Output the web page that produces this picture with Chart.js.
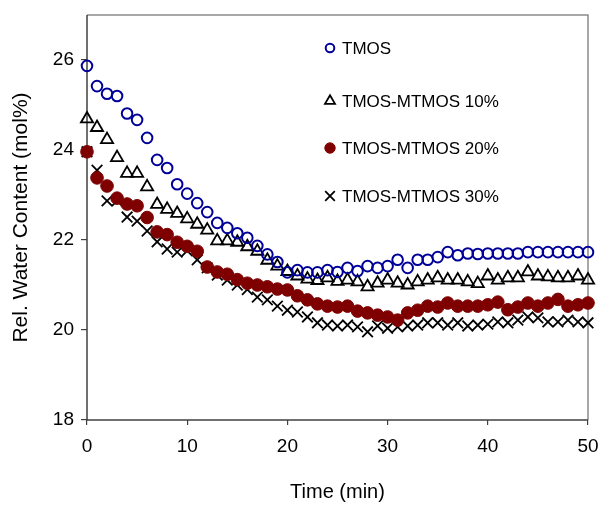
<!DOCTYPE html>
<html><head><meta charset="utf-8">
<script src="https://cdn.jsdelivr.net/npm/chart.js@4/dist/chart.umd.min.js"></script>
<style>html,body{margin:0;padding:0;background:#fff}#w{width:601px;height:505px;position:relative}</style>
</head><body><div id="w"><canvas id="c"></canvas></div>
<script>
const time = [0,1,2,3,4,5,6,7,8,9,10,11,12,13,14,15,16,17,18,19,20,21,22,23,24,25,26,27,28,29,30,31,32,33,34,35,36,37,38,39,40,41,42,43,44,45,46,47,48,49,50];
const tmos = [25.87,25.42,25.25,25.2,24.81,24.67,24.27,23.78,23.6,23.24,23.03,22.82,22.62,22.38,22.27,22.15,22.05,21.87,21.68,21.51,21.28,21.33,21.28,21.28,21.33,21.29,21.38,21.31,21.42,21.38,21.42,21.56,21.38,21.56,21.56,21.62,21.73,21.66,21.7,21.69,21.7,21.7,21.7,21.7,21.73,21.73,21.73,21.73,21.73,21.73,21.73];
const mtmos10 = [24.69,24.5,24.23,23.83,23.48,23.48,23.18,22.79,22.68,22.59,22.47,22.35,22.22,21.98,21.98,21.95,21.85,21.75,21.55,21.42,21.3,21.2,21.13,21.1,21.16,21.08,21.11,21.07,20.96,21.04,21.11,21.04,21.0,21.07,21.11,21.16,21.11,21.11,21.07,21.03,21.2,21.11,21.16,21.16,21.29,21.2,21.18,21.16,21.16,21.2,21.11];
const mtmos20 = [23.96,23.38,23.2,22.93,22.8,22.76,22.5,22.18,22.12,21.95,21.86,21.75,21.4,21.29,21.24,21.12,21.04,21.0,20.96,20.91,20.89,20.76,20.67,20.58,20.53,20.51,20.53,20.42,20.38,20.33,20.29,20.22,20.38,20.44,20.53,20.51,20.6,20.53,20.53,20.53,20.56,20.62,20.45,20.51,20.6,20.53,20.6,20.68,20.53,20.56,20.6];
const mtmos30 = [23.96,23.55,22.87,22.87,22.51,22.42,22.2,21.96,21.8,21.73,21.76,21.56,21.38,21.22,21.11,21.0,20.9,20.73,20.67,20.53,20.44,20.4,20.29,20.16,20.11,20.09,20.11,20.07,19.96,20.09,20.04,20.07,20.09,20.11,20.16,20.16,20.11,20.16,20.09,20.11,20.13,20.18,20.16,20.22,20.29,20.27,20.18,20.18,20.22,20.18,20.16];
const seriesNames = ['TMOS','TMOS-MTMOS 10%','TMOS-MTMOS 20%','TMOS-MTMOS 30%'];
const xTicks = [0,10,20,30,40,50];
const yTicks = [18,20,22,24,26];
const xTitle = 'Time (min)';
const yTitle = 'Rel. Water Content (mol%)';

function pts(v){ return time.map((t,i)=>({x:t,y:v[i]})); }
const FONT = "Arial, 'Liberation Sans', sans-serif";

const styles = [
  {pointStyle:'circle', radius:5.3, borderColor:'#000099', backgroundColor:'rgba(0,0,0,0)', borderWidth:2, lr:4.3},
  {pointStyle:'triangle', radius:7, borderColor:'#000000', backgroundColor:'rgba(0,0,0,0)', borderWidth:1.8, lr:5.8},
  {pointStyle:'circle', radius:6.3, borderColor:'#7f0000', backgroundColor:'#7f0000', borderWidth:1, lr:5.2},
  {pointStyle:'crossRot', radius:7.5, borderColor:'#000000', backgroundColor:'#000000', borderWidth:1.8, lr:6.8}
];
const values = [tmos, mtmos10, mtmos20, mtmos30];

const datasets = values.map((v,i)=>({
  label: seriesNames[i], data: pts(v), showLine:false,
  pointStyle: styles[i].pointStyle, pointRadius: styles[i].radius, pointHoverRadius: styles[i].radius,
  pointBorderColor: styles[i].borderColor, pointBackgroundColor: styles[i].backgroundColor,
  pointBorderWidth: styles[i].borderWidth, clip:false
}));

const framePlugin = {
  id:'frame',
  beforeDatasetsDraw(chart){
    const {ctx, chartArea:a} = chart;
    ctx.save();
    ctx.strokeStyle = '#8c8c8c'; ctx.lineWidth = 1.5;
    ctx.beginPath(); ctx.moveTo(a.left, a.top); ctx.lineTo(a.right, a.top); ctx.lineTo(a.right, a.bottom); ctx.stroke();
    ctx.strokeStyle = '#404040';
    ctx.beginPath(); ctx.moveTo(a.left, a.top); ctx.lineTo(a.left, a.bottom); ctx.lineTo(a.right, a.bottom); ctx.stroke();
    ctx.restore();
  }
};
const legendPos = [[330,48],[330,101],[330,148],[330,196]];
const legendPlugin = {
  id:'lg',
  afterDatasetsDraw(chart){
    const ctx = chart.ctx;
    ctx.save();
    seriesNames.forEach((n,i)=>{
      const [x,y] = legendPos[i];
      const s = styles[i];
      ctx.strokeStyle = s.borderColor; ctx.fillStyle = s.backgroundColor; ctx.lineWidth = s.borderWidth;
      Chart.helpers.drawPoint(ctx, {pointStyle:s.pointStyle, radius: s.lr, borderWidth:s.borderWidth}, x, y);
      ctx.fillStyle = '#000'; ctx.font = "17px " + FONT; ctx.textBaseline='middle'; ctx.textAlign='left';
      ctx.fillText(n, x+12, y+1);
    });
    ctx.restore();
  }
};

new Chart(document.getElementById('c'), {
  type:'scatter',
  data:{datasets},
  plugins:[framePlugin, legendPlugin],
  options:{
    responsive:true, maintainAspectRatio:false, animation:false,
    layout:{padding:{top:15,right:13,left:0,bottom:0}},
    plugins:{legend:{display:false}, tooltip:{enabled:false}},
    scales:{
      x:{type:'linear', min:0, max:50,
        afterBuildTicks(s){ s.ticks = xTicks.map(v=>({value:v})); },
        afterFit(s){ s.height = 85; s.paddingLeft = 0; s.paddingRight = 0; },
        grid:{drawOnChartArea:false, drawTicks:true, tickLength:5, color:'#404040', lineWidth:1.2},
        border:{display:false},
        ticks:{color:'#000', font:{family:FONT, size:19}, padding:10, maxRotation:0},
        title:{display:true, text:xTitle, color:'#000', font:{family:FONT, size:20, lineHeight:1}, padding:{top:0,bottom:3}}
      },
      y:{type:'linear', min:18, max:27,
        afterBuildTicks(s){ s.ticks = yTicks.map(v=>({value:v})); },
        afterFit(s){ s.width = 87; s.paddingTop = 0; s.paddingBottom = 0; },
        grid:{drawOnChartArea:false, drawTicks:true, tickLength:6, color:'#404040', lineWidth:1.2},
        border:{display:false},
        ticks:{color:'#000', font:{family:FONT, size:19}, padding:7},
        title:{display:true, text:yTitle, color:'#000', font:{family:FONT, size:21, lineHeight:1}, padding:{top:11,bottom:0}}
      }
    }
  }
});
</script></body></html>
